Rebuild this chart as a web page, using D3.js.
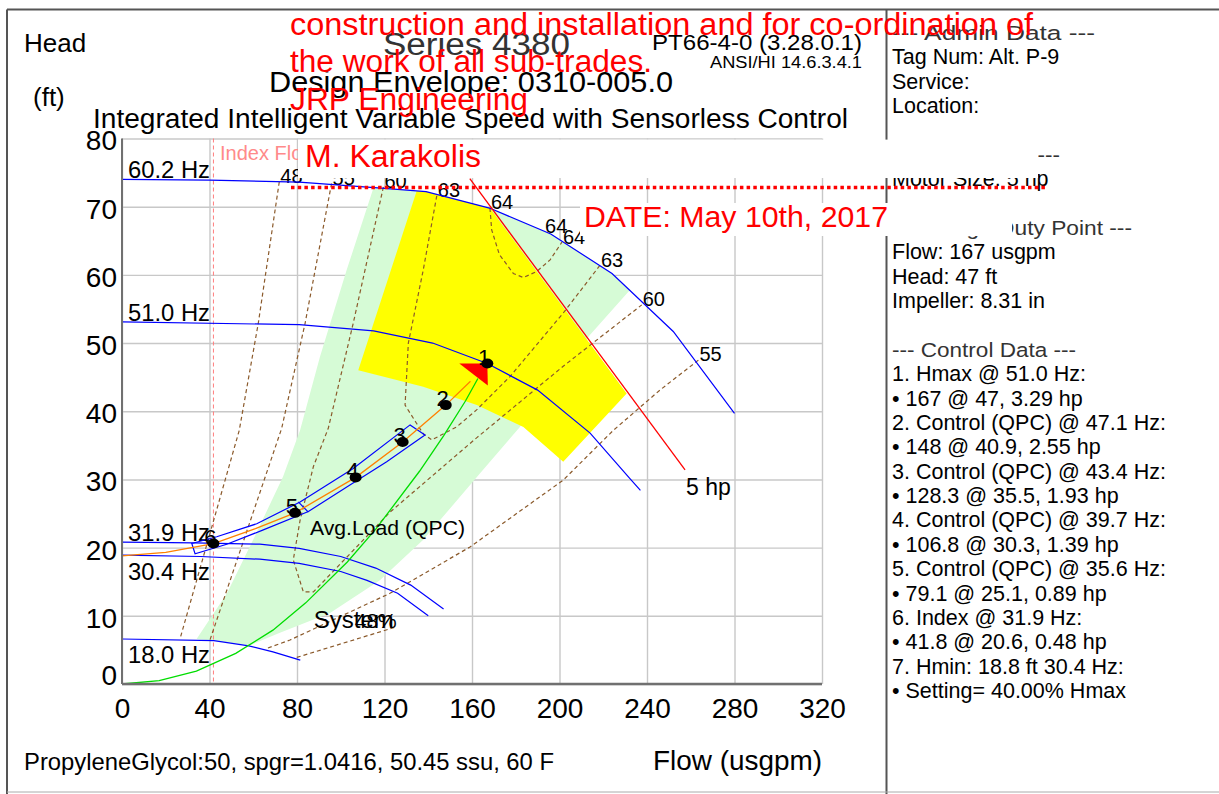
<!DOCTYPE html>
<html>
<head>
<meta charset="utf-8">
<script src="https://cdn.jsdelivr.net/npm/d3@7"></script>
<style>
  html, body { margin: 0; padding: 0; background: #fff; overflow: hidden; }
  text { font-family: "Liberation Sans", Arial, sans-serif; }
</style>
</head>
<body>
<svg id="chart" width="1219" height="794"></svg>
<script>
// ---------------- data (flow in usgpm, head in ft) ----------------
const flowTicks = [0, 40, 80, 120, 160, 200, 240, 280, 320];
const headTicks = [0, 10, 20, 30, 40, 50, 60, 70, 80];

// pump curves at each drive frequency
const speedNames = ["60.2 Hz", "51.0 Hz", "31.9 Hz", "30.4 Hz", "18.0 Hz"];
const speed602 = [[0,74.0],[40,73.9],[81,73.6],[120,72.7],[139,72.2],[168,69.8],[196,66.0],[224,60.2],[252,51.7],[280,39.7]];
const speed510 = [[0,53.1],[81,52.7],[115,51.8],[142,50.0],[167,47.0],[190,43.1],[214,36.8],[232,30.2],[237,28.4]];
const speed319 = [[0,20.8],[33,20.7],[63,20.5],[81,19.9],[100,18.7],[116,17.0],[132,14.5],[147,11.0]];
const speed304 = [[0,18.9],[36,18.7],[63,18.3],[81,17.7],[100,16.5],[112,15.2],[126,13.3],[140,10.0]];
const speed180 = [[0,6.6],[42,6.35],[58,5.6],[69,4.7],[81.5,3.5]];

// system curve and quadratic pressure control curve
const systemCurve  = [[0,0],[17,0.5],[34,1.9],[52,4.5],[69,7.9],[84,11.9],[103,17.9],[116,22.7],[136,31.2],[147,36.4],[157,41.5],[162.7,44.8]];
const controlCurve = [[0,18.8],[20,19.3],[41.8,20.6],[61,22.8],[79.1,25.1],[106.8,30.3],[128.3,35.5],[148,40.9],[159.3,44.4]];

// control data points 1..6
const pointNames  = ["1", "2", "3", "4", "5", "6"];
const pointFlows  = [167, 148, 128.3, 106.8, 79.1, 41.8];
const pointHeads  = [47, 40.9, 35.5, 30.3, 25.1, 20.6];

// average-load band around the control curve
const qpcBand    = [[31.9,20.6],[43.3,21.6],[61.6,23.5],[81.4,26.7],[105.7,31.6],[131.7,38.0],[138.5,36.5],[121,32.6],[104.2,29.2],[85.2,25.3],[64.6,22.6],[47.9,20.5],[33.4,19.1]];
const qpcDivider = [[80.6,26.7],[85.2,25.2]];

// preferred operating region (light green) and design envelope (yellow)
const greenZone = [[34.1,6.6],[48.0,13.3],[59.9,21.1],[73.6,30.4],[81.4,37.2],[90.5,48.0],[102.7,60.7],[114.9,72.7],[120,72.7],[139,72.2],[168,69.8],[196,66.0],[224,60.2],[232.2,57.8],[213.9,51.2],[195.7,44.1],[181.9,37.7],[163.7,30.9],[137.6,21.1],[117.9,15.2],[95.1,10.4],[72.2,7.5],[58.5,5.7],[42,6.35]];
const yellowZone = [[134.7,72.3],[139.3,72.2],[168.2,69.8],[230.7,42.6],[201.7,32.6],[183.5,37.7],[162.2,40.9],[137.7,43.6],[108,46.0]];

// motor power limit
const motorLimit = [[159,74.1],[257.4,31.4]];
const motorLabel = "5 hp";

// iso-efficiency contours (%)
const eff48Left  = [[71.9,73.65],[62.3,52.9],[53.6,37.2],[26.5,6.6]];
const eff48Right = [[79.9,3.9],[125.6,8.4]];
const eff55Left  = [[95.8,73.4],[83.7,52.9],[73.0,37.5],[40.2,6.45]];
const eff55Right = [[263.5,47.5],[245.9,43.1],[224.6,37.2],[201.7,29.9],[159.1,20.1],[122.5,13.3],[76.8,6.45],[66.1,5.2]];
const eff60      = [[119.5,72.9],[105.7,52.9],[94.3,37.5],[87.5,31.9],[81.4,24.0],[78.3,18.2],[82.9,13.5],[87.5,13.5],[122.5,25.2],[162.1,36.1],[201.7,46.6],[237.6,55.6]];
const eff63      = [[143.9,71.6],[137.7,60.7],[130.9,50.0],[129.4,40.9],[134.7,38.2],[137.7,36.7],[141.6,35.8],[153.0,37.7],[162.1,40.2],[177.4,45.1],[201.7,54.4],[218.5,61.4]];
const eff64      = [[168.2,69.8],[169.0,66.6],[172.5,63.0],[178.9,60.2],[183.5,59.6],[189.6,60.5],[195.7,62.2],[201.1,64.8]];
const eff64Extra = [193.4,66.1];

const indexFlow = 41.8;
const systemLabelAt = [87.7, 8.2];

const panelLines = [
  "--- Admin Data ---", "Tag Num: Alt. P-9", "Service:", "Location:", "",
  "--- Motor Data ---", "Motor Size: 5 hp", "",
  "--- Design Duty Point ---", "Flow: 167 usgpm", "Head: 47 ft", "Impeller: 8.31 in", "",
  "--- Control Data ---",
  "1. Hmax @ 51.0 Hz:", "\u2022 167 @ 47, 3.29 hp",
  "2. Control (QPC) @ 47.1 Hz:", "\u2022 148 @ 40.9, 2.55 hp",
  "3. Control (QPC) @ 43.4 Hz:", "\u2022 128.3 @ 35.5, 1.93 hp",
  "4. Control (QPC) @ 39.7 Hz:", "\u2022 106.8 @ 30.3, 1.39 hp",
  "5. Control (QPC) @ 35.6 Hz:", "\u2022 79.1 @ 25.1, 0.89 hp",
  "6. Index @ 31.9 Hz:", "\u2022 41.8 @ 20.6, 0.48 hp",
  "7. Hmin: 18.8 ft 30.4 Hz:", "\u2022 Setting= 40.00% Hmax"
];

const stampLines = [
  "construction and installation and for co-ordination of",
  "the work of all sub-trades.",
  "JRP Engineering"
];
const stampName = "M. Karakolis";
const stampDate = "DATE: May 10th, 2017";

// ---------------- drawing ----------------
const svg = d3.select("#chart");
svg.append("rect").attr("width", 1219).attr("height", 794).attr("fill", "#fff");

const x = d3.scaleLinear().domain([0, 320]).range([122, 822]);
const y = d3.scaleLinear().domain([0, 80]).range([684, 138.5]);
const line = d3.line().x(d => x(d[0])).y(d => y(d[1]));

function fit(sel, w) {
  return sel.attr("textLength", w).attr("lengthAdjust", "spacingAndGlyphs");
}

// grid + tick labels
const xAxis = svg.append("g")
  .attr("transform", `translate(0,${y(0)})`)
  .call(d3.axisBottom(x).tickValues(flowTicks).tickFormat(d3.format("d"))
        .tickSize(-(y(0) - y(80))).tickPadding(14));
const yAxis = svg.append("g")
  .attr("transform", `translate(${x(0)},0)`)
  .call(d3.axisLeft(y).tickValues(headTicks).tickFormat(d3.format("d"))
        .tickSize(-(x(320) - x(0))).tickPadding(5));
[xAxis, yAxis].forEach(g => {
  g.select(".domain").remove();
  g.selectAll(".tick line").attr("stroke", "#c8c8c8").attr("stroke-width", 1.4);
  g.selectAll(".tick text").attr("fill", "#000").attr("font-size", 28)
    .attr("font-family", "Liberation Sans, Arial, sans-serif");
});
yAxis.selectAll(".tick text").attr("dy", d => d === 0 ? "0.03em" : "0.41em");

// regions
const plot = svg.append("g");
plot.append("path").attr("d", line(greenZone) + "Z").attr("fill", "#d6fbd6");
plot.append("path").attr("d", line(yellowZone) + "Z").attr("fill", "#ffff00");

// index flow marker
plot.append("line")
  .attr("x1", x(indexFlow)).attr("x2", x(indexFlow)).attr("y1", y(80)).attr("y2", y(0))
  .attr("stroke", "#ff7f7f").attr("stroke-width", 1).attr("stroke-dasharray", "4,3");
plot.append("text").attr("x", 220).attr("y", 160).attr("font-size", 20)
  .attr("fill", "#ff8a8a").text("Index Flow");

// efficiency contours
const effContours = [
  { pts: eff48Left,  start: "48" },
  { pts: eff48Right, end: "48%" },
  { pts: eff55Left,  start: "55" },
  { pts: eff55Right, start: "55" },
  { pts: eff60,      start: "60", end: "60" },
  { pts: eff63,      start: "63", end: "63" },
  { pts: eff64,      start: "64", end: "64" }
];
const effG = plot.append("g");
effContours.forEach(c => {
  effG.append("path").attr("d", line(c.pts)).attr("fill", "none")
    .attr("stroke", "#8b5a2b").attr("stroke-width", 1.2).attr("stroke-dasharray", "4,3");
});
effContours.forEach(c => {
  if (c.start) {
    const p = c.pts[0];
    effG.append("text").attr("x", x(p[0]) + 1).attr("y", y(p[1]) + 1)
      .attr("font-size", 20).text(c.start);
  }
  if (c.end) {
    const p = c.pts[c.pts.length - 1];
    const right = c.end.endsWith("%");
    effG.append("text").attr("x", x(p[0]) + (right ? 0 : 1)).attr("y", y(p[1]) + 1.5)
      .attr("text-anchor", right ? "end" : "start")
      .attr("font-size", right ? 21 : 20).text(c.end);
  }
});
effG.append("text").attr("x", x(eff64Extra[0])).attr("y", y(eff64Extra[1]))
  .attr("font-size", 20).text("64");

// speed curves
const speedCurves = [
  { label: speedNames[0], pts: speed602, below: false },
  { label: speedNames[1], pts: speed510, below: false },
  { label: speedNames[2], pts: speed319, below: false },
  { label: speedNames[3], pts: speed304, below: true },
  { label: speedNames[4], pts: speed180, below: true }
];
speedCurves.forEach(c => {
  plot.append("path").attr("d", line(c.pts)).attr("fill", "none")
    .attr("stroke", "#0000ff").attr("stroke-width", 1.2);
  plot.append("text").attr("x", 128).attr("y", y(c.pts[0][1]) + (c.below ? 24.5 : -1))
    .attr("font-size", 24).call(s => fit(s, 82)).text(c.label);
});

// motor power limit
plot.append("path").attr("d", line(motorLimit)).attr("fill", "none")
  .attr("stroke", "#ff0000").attr("stroke-width", 1.3);
const mEnd = motorLimit[motorLimit.length - 1];
plot.append("text").attr("x", x(mEnd[0]) + 1).attr("y", y(mEnd[1]) + 25)
  .attr("font-size", 23).text(motorLabel);

// system curve
plot.append("path").attr("d", line(systemCurve)).attr("fill", "none")
  .attr("stroke", "#00dd00").attr("stroke-width", 1.3);
plot.append("text").attr("x", x(systemLabelAt[0])).attr("y", y(systemLabelAt[1]))
  .attr("font-size", 24).text("System");

// average-load band and control curve
plot.append("path").attr("d", line(qpcBand) + "Z").attr("fill", "none")
  .attr("stroke", "#0000ff").attr("stroke-width", 1.2);
plot.append("path").attr("d", line(qpcDivider)).attr("fill", "none")
  .attr("stroke", "#0000ff").attr("stroke-width", 1.2);
plot.append("path").attr("d", line(controlCurve)).attr("fill", "none")
  .attr("stroke", "#ff8000").attr("stroke-width", 1.3);
plot.append("text").attr("x", 310).attr("y", 535).attr("font-size", 21)
  .call(s => fit(s, 155)).text("Avg.Load (QPC)");

// arrowhead at the design point
const tipX = x(pointFlows[0]), tipY = y(pointHeads[0]);
plot.append("path")
  .attr("d", `M${tipX},${tipY}L${tipX - 28},${tipY}L${tipX + 0.5},${tipY + 22}Z`)
  .attr("fill", "#ff0000");

// control points
pointNames.forEach((n, i) => {
  const px = x(pointFlows[i]), py = y(pointHeads[i]);
  plot.append("ellipse").attr("cx", px).attr("cy", py).attr("rx", 6).attr("ry", 5).attr("fill", "#000");
  plot.append("text").attr("x", px + 3).attr("y", py + 1).attr("text-anchor", "end")
    .attr("font-size", 22).text(n);
});

// axis lines
svg.append("line").attr("x1", x(0)).attr("x2", x(0)).attr("y1", y(80)).attr("y2", y(0))
  .attr("stroke", "#707070").attr("stroke-width", 2);
svg.append("line").attr("x1", x(0)).attr("x2", x(320)).attr("y1", y(0)).attr("y2", y(0))
  .attr("stroke", "#707070").attr("stroke-width", 2.5);

// titles
svg.append("text").attr("x", 24).attr("y", 52).attr("font-size", 26).text("Head");
svg.append("text").attr("x", 33).attr("y", 106).attr("font-size", 26).text("(ft)");
svg.append("text").attr("x", 383).attr("y", 55).attr("font-size", 31)
  .attr("font-family", "DejaVu Sans, sans-serif").attr("font-weight", 200)
  .attr("fill", "#333").call(s => fit(s, 187)).text("Series 4380");
svg.append("text").attr("x", 652).attr("y", 50).attr("font-size", 22)
  .call(s => fit(s, 210)).text("PT66-4-0 (3.28.0.1)");
svg.append("text").attr("x", 710).attr("y", 68).attr("font-size", 16)
  .call(s => fit(s, 152)).text("ANSI/HI 14.6.3.4.1");
svg.append("text").attr("x", 269).attr("y", 92).attr("font-size", 30)
  .call(s => fit(s, 404)).text("Design Envelope: 0310-005.0");
svg.append("text").attr("x", 93).attr("y", 128).attr("font-size", 27)
  .call(s => fit(s, 755)).text("Integrated Intelligent Variable Speed with Sensorless Control");
svg.append("text").attr("x", 24).attr("y", 770).attr("font-size", 24)
  .call(s => fit(s, 530)).text("PropyleneGlycol:50, spgr=1.0416, 50.45 ssu, 60 F");
svg.append("text").attr("x", 653).attr("y", 770).attr("font-size", 28)
  .call(s => fit(s, 169)).text("Flow (usgpm)");

// info panel; section headers use a wider face
const headerWidths = {
  "--- Admin Data ---": 203,
  "--- Motor Data ---": 168,
  "--- Design Duty Point ---": 240,
  "--- Control Data ---": 184
};
const panel = svg.append("g");
panelLines.forEach((t, i) => {
  if (!t) return;
  const header = t.startsWith("---");
  const tx = panel.append("text").attr("x", 892).attr("y", 40 + i * 24.37)
    .attr("font-size", header ? 20.5 : 21.5)
    .attr("font-family", header ? "DejaVu Sans, sans-serif" : "Liberation Sans, Arial, sans-serif")
    .attr("fill", header ? "#333" : "#000")
    .text(t);
  if (header) fit(tx, headerWidths[t]);
});

// frame
const frame = svg.append("g").attr("stroke", "#555").attr("stroke-width", 2);
frame.append("line").attr("x1", 7).attr("x2", 1219).attr("y1", 9.5).attr("y2", 9.5);
frame.append("line").attr("x1", 7).attr("x2", 7).attr("y1", 9.5).attr("y2", 794);
frame.append("line").attr("x1", 886.5).attr("x2", 886.5).attr("y1", 9.5).attr("y2", 794);
svg.append("line").attr("x1", 7).attr("x2", 1219).attr("y1", 792).attr("y2", 792)
  .attr("stroke", "#aaa").attr("stroke-width", 1);

// review stamp
const stamp = svg.append("g").attr("fill", "#ff0000");
const stampY = [35, 72, 110];
const stampW = [743, 362, 238];
stampLines.forEach((t, i) => {
  stamp.append("text").attr("x", 290).attr("y", stampY[i]).attr("font-size", 31)
    .call(s => fit(s, stampW[i])).text(t);
});
stamp.append("rect").attr("x", 298).attr("y", 139.6).attr("width", 740).attr("height", 38.4).attr("fill", "#fff");
stamp.append("text").attr("x", 305).attr("y", 167).attr("font-size", 31)
  .call(s => fit(s, 176)).text(stampName);
stamp.append("line").attr("x1", 291).attr("x2", 1046).attr("y1", 187.5).attr("y2", 187.5)
  .attr("stroke", "#ff0000").attr("stroke-width", 3.5).attr("stroke-dasharray", "3.5,3.2");
stamp.append("rect").attr("x", 580).attr("y", 203).attr("width", 432).attr("height", 33).attr("fill", "#fff");
stamp.append("text").attr("x", 584).attr("y", 227).attr("font-size", 30)
  .call(s => fit(s, 304)).text(stampDate);
</script>
</body>
</html>
